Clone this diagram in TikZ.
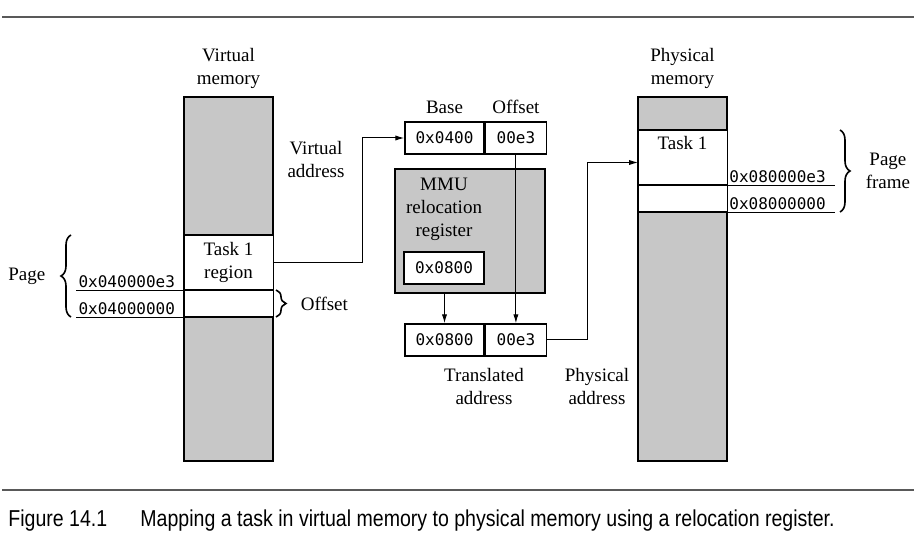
\documentclass[tikz,border=0pt]{standalone}
\usepackage{fontspec}
\setmainfont{Liberation Serif}
\setmonofont{DejaVu Sans Mono}
\newfontfamily\capfont[FakeStretch=0.85]{Liberation Sans}
\usetikzlibrary{positioning,arrows.meta,decorations.pathreplacing}

\begin{document}
\begin{tikzpicture}[x=0.5pt,y=-0.5pt,
		>={Latex[length=4.5pt,width=2.6pt]},
		lbl/.style={align=center, font=\fontsize{9.5}{11.5}\selectfont, inner sep=0pt},
		memcol/.style={draw, line width=0.7pt, fill=black!22, minimum width=44pt, minimum height=182pt, inner sep=0pt},
		region/.style={fill=white, minimum width=44pt, inner sep=0pt, lbl},
		cell/.style={draw, line width=0.7pt, fill=white, minimum height=16pt, inner sep=0pt, font=\ttfamily\fontsize{8}{10}\selectfont},
		addr/.style={font=\ttfamily\fontsize{8}{10}\selectfont, inner sep=1pt},
		sep/.style={line width=1pt},
		wire/.style={line width=0.5pt},
		curly/.style={decorate, decoration={brace, amplitude=5pt}, line width=0.8pt},
		rulec/.style={line width=1pt, black!65},
	]
	\useasboundingbox (0,0) rectangle (916,545);
	
	%Virtual memory
	\node[memcol] (vmem) at (228.5,279) {};
	\node[region, minimum height=27.5pt] (vtask) at (228.5,262.5) {Task 1\\region};
	\node[region, minimum height=13.5pt] (voff) at (228.5,303.5) {};
	\draw[line width=0.7pt] (vmem.north west) rectangle (vmem.south east);
	\draw[sep] (vtask.north west) -- (vtask.north east);
	\draw[sep] (vtask.south west) -- (vtask.south east);
	\draw[sep] (voff.south west) -- (voff.south east);
	\node[lbl] (vmemlbl) at (228.5,68) {Virtual\\memory};
	
	%Physical memory
	\node[memcol] (pmem) at (682.5,279) {};
	\node[region, minimum height=27.5pt, label={[lbl,anchor=north,yshift=-3pt]north:Task 1}] (ptask) at (682.5,157.5) {};
	\node[region, minimum height=13.5pt] (pframe) at (682.5,198.5) {};
	\draw[line width=0.7pt] (pmem.north west) rectangle (pmem.south east);
	\draw[sep] (ptask.north west) -- (ptask.north east);
	\draw[sep] (ptask.south west) -- (ptask.south east);
	\draw[sep] (pframe.south west) -- (pframe.south east);
	\node[lbl] (pmemlbl) at (682.5,68) {Physical\\memory};
	
	%Addresses
	\draw[wire] (vtask.south west) -- ++(-108,0) node[addr, pos=1, above right] {0x040000e3};
	\draw[wire] (voff.south west) -- ++(-108,0) node[addr, pos=1, above right] {0x04000000};
	\draw[wire] (ptask.south east) -- ++(108,0) node[addr, pos=0, above right] {0x080000e3};
	\draw[wire] (pframe.south east) -- ++(108,0) node[addr, pos=0, above right] {0x08000000};
	
	%Braces
	\draw[curly] (71,317) -- (71,235) node[lbl, midway, left=12.5pt] (pagelbl) {Page};
	\draw[curly] (276,290) -- (276,317) node[lbl, midway, right=12pt] (offlbl) {Offset};
	\draw[curly] (840,130) -- (840,212) node[lbl, midway, right=12.5pt] (framelbl) {Page\\frame};
	
	%Registers
	\node[cell, minimum width=39.5pt] (base) at (444.5,138) {0x0400};
	\node[cell, minimum width=30.5pt, right=0pt of base] (offs) {00e3};
	\node[lbl, above=3.5pt of base] (baselbl) {Base};
	\node[lbl, above=3.5pt of offs] (offslbl) {Offset};
	
	\node[draw, line width=0.7pt, fill=black!22, minimum width=75pt, minimum height=62pt] (mmu) at (470,231) {};
	\node[lbl] (mmulbl) at (444,209.5) {MMU\\relocation\\register};
	\node[cell, minimum width=40pt] (mmureg) at (444,268) {0x0800};
	
	\node[cell, minimum width=39.5pt] (trbase) at (444.5,340) {0x0800};
	\node[cell, minimum width=30.5pt, right=0pt of trbase] (troffs) {00e3};
	\node[lbl] (trlbl) at (484,387) {Translated\\address};
	\node[lbl] (physlbl) at (597,387) {Physical\\address};
	\node[lbl] (virtlbl) at (316,160) {Virtual\\address};
	
	%Lines
	\draw[wire,->] (offs.south) -- (troffs.north);
	\draw[wire,->] (mmu.south -| trbase.north) -- (trbase.north);
	\draw[wire,->] (vtask.east) -- ++(90,0) |- (base.west);
	\draw[wire,->] (troffs.east) -- ++(40,0) |- ([yshift=-2.5pt]ptask.west);
	
	%Caption
	\draw[rulec] (2,17) -- (914,17);
	\draw[rulec] (2,490) -- (914,490);
	\node[font=\capfont\fontsize{11.5}{13}\selectfont, anchor=west, inner sep=0pt] (fignum) at (8,521) {Figure 14.1};
	\node[font=\capfont\fontsize{11.5}{13}\selectfont, anchor=west, inner sep=0pt] (caption) at (140,521) {Mapping a task in virtual memory to physical memory using a relocation register.};
	
\end{tikzpicture}
\end{document}
